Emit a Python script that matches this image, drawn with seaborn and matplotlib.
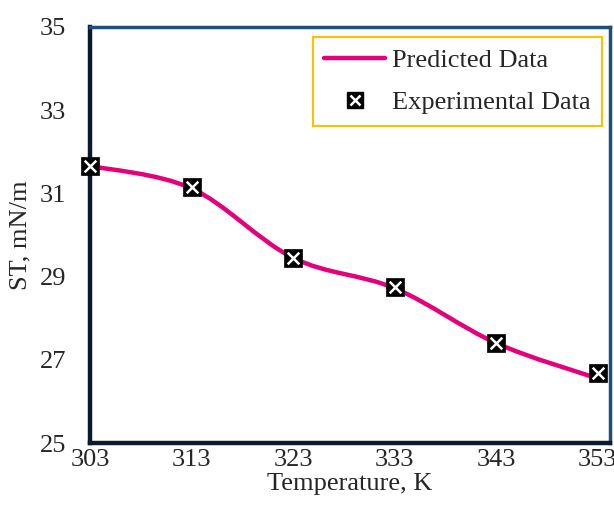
import numpy as np
import pandas as pd
import matplotlib
matplotlib.use("Agg")
import matplotlib.pyplot as plt
import seaborn as sns
from matplotlib.path import Path
from matplotlib.patches import PathPatch
from matplotlib.lines import Line2D

temperature = [303, 313, 323, 333, 343, 353]
experimental = [31.66, 31.16, 29.45, 28.75, 27.40, 26.68]
predicted = [31.66, 31.12, 29.45, 28.72, 27.40, 26.55]
xticks = [303, 313, 323, 333, 343, 353]
yticks = [25, 27, 29, 31, 33, 35]

sns.set_theme(style="white")
plt.rcParams["font.family"] = ["Liberation Serif", "DejaVu Serif"]

fig = plt.figure(figsize=(6.14, 5.15), dpi=100)
ax = fig.add_axes([0.1466, 0.1398, 0.8469, 0.8078])

line_color = "#E5007A"

# smooth (Catmull-Rom -> Bezier) path for predicted data
P = np.column_stack([temperature, predicted]).astype(float)
verts = [tuple(P[0])]
codes = [Path.MOVETO]
n = len(P)
for i in range(n - 1):
    p0 = P[i - 1] if i > 0 else P[i]
    p1 = P[i]
    p2 = P[i + 1]
    p3 = P[i + 2] if i + 2 < n else P[i + 1]
    c1 = p1 + (p2 - p0) / 6.0
    c2 = p2 - (p3 - p1) / 6.0
    verts += [tuple(c1), tuple(c2), tuple(p2)]
    codes += [Path.CURVE4] * 3
ax.add_patch(PathPatch(Path(verts, codes), fill=False, edgecolor=line_color,
                       lw=3.2, capstyle="round", zorder=3))

df = pd.DataFrame({"T": temperature, "ST": experimental})
sns.scatterplot(data=df, x="T", y="ST", marker="s", s=150, color="black",
                edgecolor="black", linewidth=0.5, ax=ax, zorder=4, legend=False,
                clip_on=False)
sns.scatterplot(data=df, x="T", y="ST", marker="x", s=70, color="white",
                linewidth=1.8, ax=ax, zorder=5, legend=False, clip_on=False)

ax.set_xlim(303, 354.2)
ax.set_ylim(25, 35)
ax.set_xticks(xticks)
ax.set_yticks(yticks)
ax.set_xticklabels([str(v) for v in xticks], fontsize=19)
ax.set_yticklabels([str(v) for v in yticks], fontsize=19)
ax.tick_params(axis="both", length=0)
ax.tick_params(axis="x", pad=4)
ax.tick_params(axis="y", pad=17)
ax.set_xlabel("Temperature, K", fontsize=19, labelpad=2)
ax.set_ylabel("ST, mN/m", fontsize=19, labelpad=6)
ax.grid(False)

for side in ["top", "right"]:
    ax.spines[side].set_color("#1F4E79")
    ax.spines[side].set_linewidth(2.5)
for side in ["left", "bottom"]:
    ax.spines[side].set_color("#0A1A2E")
    ax.spines[side].set_linewidth(3.2)

sq = Line2D([0], [0], marker="s", color="black", linestyle="none", markersize=11)
xm = Line2D([0], [0], marker="x", color="white", linestyle="none",
            markersize=7, markeredgewidth=1.8)
handles = [Line2D([0], [0], color=line_color, lw=3.2), (sq, xm)]
leg = ax.legend(handles, ["Predicted Data", "Experimental Data"],
                loc="upper right", bbox_to_anchor=(0.985, 0.977),
                fontsize=19, frameon=True, fancybox=False, framealpha=1,
                handlelength=2.3, borderpad=0.45, labelspacing=0.72,
                handletextpad=0.25, borderaxespad=0.0)
leg.get_frame().set_edgecolor("#FFC000")
leg.get_frame().set_linewidth(1.5)

fig.savefig("out.png", dpi=100)
